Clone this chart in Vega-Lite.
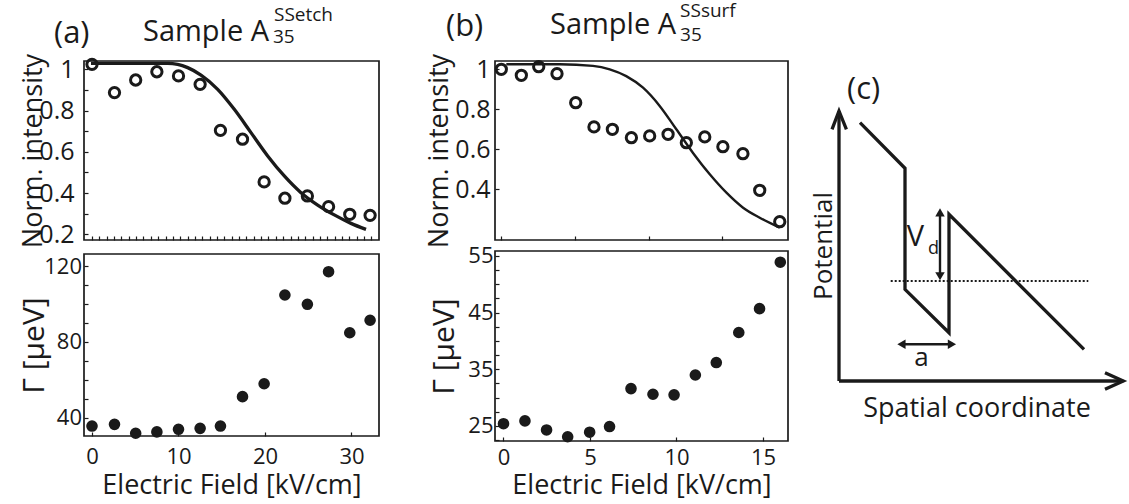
{
  "$schema": "https://vega.github.io/schema/vega-lite/v6.json",
  "padding": 0,
  "autosize": {"type": "pad"},
  "background": "white",
  "config": {
    "font": "Open Sans",
    "view": {"stroke": "#1a1a1a", "strokeWidth": 1.7},
    "axis": {"grid": false, "domain": false, "labelFont": "Open Sans", "titleFont": "Open Sans", "labelColor": "#1a1a1a", "titleColor": "#1a1a1a", "tickColor": "#1a1a1a", "titleFontWeight": "normal", "labelFlush": false, "labelOverlap": false, "tickWidth": 1.2},
    "text": {"font": "Open Sans", "color": "#1a1a1a"}
  },
  "spacing": 3,
  "hconcat": [
    {
      "bounds": "flush",
      "spacing": 14,
      "vconcat": [
        {
          "width": 295, "height": 179,
          "encoding": {
            "x": {"field": "x", "type": "quantitative", "scale": {"domain": [-0.925, 33.18], "nice": false, "zero": false},
              "axis": {"title": null, "labels": false, "tickSize": -4, "minExtent": 0, "maxExtent": 0,
                "values": [0,0.85,1.7,2.55,3.4,4.25,5.1,5.95,6.8,7.65,8.5,9.35,10.2,11.05,11.9,12.75,13.6,14.45,15.3,16.15,17,17.85,18.7,19.55,20.4,21.25,22.1,22.95,23.8,24.65,25.5,26.35,27.2,28.05,28.9,29.75,30.6,31.45,32.3]}},
            "y": {"field": "y", "type": "quantitative", "scale": {"domain": [0.1724, 1.0402], "nice": false, "zero": false},
              "axis": {"title": "Norm. intensity", "values": [0.2,0.3,0.4,0.5,0.6,0.7,0.8,0.9,1], "format": "~f",
                "labelExpr": "abs(datum.value*5 - round(datum.value*5)) < 0.001 ? datum.label : ''",
                "labelFontSize": 25, "labelPadding": 14, "tickSize": -4, "titleFontSize": 27, "titlePadding": 6.6, "minExtent": 30, "maxExtent": 30}}
          },
          "layer": [
            {"data": {"values": [
              {"x": -0.12, "y": 1.029}, {"x": 8.75, "y": 1.029}, {"x": 9.9, "y": 1.024}, {"x": 11.06, "y": 1.008}, {"x": 12.6, "y": 0.972},
              {"x": 14.53, "y": 0.903}, {"x": 16.45, "y": 0.806}, {"x": 18.38, "y": 0.693}, {"x": 20.31, "y": 0.58}, {"x": 22.23, "y": 0.483},
              {"x": 24.16, "y": 0.402}, {"x": 26.09, "y": 0.342}, {"x": 28.01, "y": 0.294}, {"x": 29.94, "y": 0.253}, {"x": 31.68, "y": 0.224}]},
             "mark": {"type": "line", "interpolate": "monotone", "color": "#1a1a1a", "strokeWidth": 3.3}},
            {"data": {"values": [
              {"x": 0, "y": 1.024}, {"x": 2.6, "y": 0.887}, {"x": 5.05, "y": 0.948}, {"x": 7.5, "y": 0.988}, {"x": 10, "y": 0.968},
              {"x": 12.5, "y": 0.927}, {"x": 14.85, "y": 0.704}, {"x": 17.4, "y": 0.661}, {"x": 19.9, "y": 0.454}, {"x": 22.3, "y": 0.375},
              {"x": 24.9, "y": 0.386}, {"x": 27.35, "y": 0.334}, {"x": 29.8, "y": 0.297}, {"x": 32.15, "y": 0.292}]},
             "mark": {"type": "point", "shape": "circle", "filled": false, "size": 106, "strokeWidth": 3, "color": "#1a1a1a", "opacity": 1}},
            {"data": {"values": [{"x": -4.393, "y": 1.129, "t": "(a)"}]},
             "mark": {"type": "text", "fontSize": 31, "align": "left", "baseline": "alphabetic"}, "encoding": {"text": {"field": "t"}}},
            {"data": {"values": [{"x": 5.896, "y": 1.137, "t": "Sample A"}]},
             "mark": {"type": "text", "fontSize": 29, "align": "left", "baseline": "alphabetic"}, "encoding": {"text": {"field": "t"}}},
            {"data": {"values": [{"x": 20.925, "y": 1.1275, "t": "35"}, {"x": 21.04, "y": 1.2342, "t": "SSetch"}]},
             "mark": {"type": "text", "fontSize": 19, "align": "left", "baseline": "alphabetic"}, "encoding": {"text": {"field": "t"}}},
            {"data": {"values": [{"x": -10.52, "y": 1.33115, "t": "."}]},
             "mark": {"type": "text", "fontSize": 10, "align": "left", "baseline": "top", "opacity": 0}, "encoding": {"text": {"field": "t"}}},
            {"data": {"values": [{"x": 33.526, "y": 0.8463, "t": "."}]},
             "mark": {"type": "text", "fontSize": 10, "align": "right", "baseline": "middle", "opacity": 0}, "encoding": {"text": {"field": "t"}}}
          ]
        },
        {
          "width": 295, "height": 182,
          "data": {"values": [
            {"x": 0, "y": 35.6}, {"x": 2.6, "y": 36.5}, {"x": 5.05, "y": 31.8}, {"x": 7.5, "y": 32.5}, {"x": 10, "y": 33.9},
            {"x": 12.5, "y": 34.4}, {"x": 14.85, "y": 35.6}, {"x": 17.4, "y": 51.1}, {"x": 19.9, "y": 57.9}, {"x": 22.3, "y": 104.7},
            {"x": 24.9, "y": 99.8}, {"x": 27.35, "y": 117.0}, {"x": 29.8, "y": 84.8}, {"x": 32.15, "y": 91.4}]},
          "mark": {"type": "point", "shape": "circle", "filled": true, "size": 135, "strokeWidth": 0, "color": "#1a1a1a", "opacity": 1},
          "encoding": {
            "x": {"field": "x", "type": "quantitative", "scale": {"domain": [-0.925, 33.18], "nice": false, "zero": false},
              "axis": {"title": "Electric Field [kV/cm]", "values": [0, 10, 20, 30], "format": "~f", "labelFontSize": 22, "labelPadding": 14, "tickSize": -4,
                "titleFontSize": 27, "titlePadding": 11, "minExtent": 25, "maxExtent": 25}},
            "y": {"field": "y", "type": "quantitative", "scale": {"domain": [30.35, 126.33], "nice": false, "zero": false},
              "axis": {"title": "Γ [μeV]", "values": [40, 50, 60, 70, 80, 90, 100, 110, 120], "format": "~f",
                "labelExpr": "datum.value % 40 == 0 ? datum.label : ''",
                "labelFontSize": 22, "labelPadding": 6.5, "tickSize": -4, "titleFontSize": 30, "titlePadding": 4.5, "minExtent": 30, "maxExtent": 30}}
          }
        }
      ]
    },
    {
      "bounds": "flush",
      "spacing": 11,
      "vconcat": [
        {
          "width": 293, "height": 179,
          "encoding": {
            "x": {"field": "x", "type": "quantitative", "scale": {"domain": [-0.428, 19.46], "nice": false, "zero": false},
              "axis": {"title": null, "labels": false, "tickSize": -4, "values": [0, 5, 10, 15], "minExtent": 0, "maxExtent": 0}},
            "y": {"field": "y", "type": "quantitative", "scale": {"domain": [0.1465, 1.0415], "nice": false, "zero": false},
              "axis": {"title": "Norm. intensity", "values": [0.4, 0.6, 0.8, 1], "format": "~f",
                "labelFontSize": 25, "labelPadding": 9, "tickSize": -4, "titleFontSize": 27, "titlePadding": 11.3, "minExtent": 30, "maxExtent": 30}}
          },
          "layer": [
            {"data": {"values": [
              {"x": 0.34, "y": 1.025}, {"x": 3.96, "y": 1.025}, {"x": 6.22, "y": 1.017}, {"x": 7.36, "y": 1.0}, {"x": 8.48, "y": 0.966},
              {"x": 9.62, "y": 0.908}, {"x": 10.75, "y": 0.817}, {"x": 11.88, "y": 0.7}, {"x": 13.0, "y": 0.583}, {"x": 14.15, "y": 0.475},
              {"x": 15.28, "y": 0.383}, {"x": 16.41, "y": 0.308}, {"x": 17.54, "y": 0.258}, {"x": 18.9, "y": 0.208}]},
             "mark": {"type": "line", "interpolate": "monotone", "color": "#1a1a1a", "strokeWidth": 2.4}},
            {"data": {"values": [
              {"x": 0, "y": 1.0}, {"x": 1.36, "y": 0.97}, {"x": 2.54, "y": 1.013}, {"x": 3.78, "y": 0.978}, {"x": 5.05, "y": 0.833},
              {"x": 6.29, "y": 0.712}, {"x": 7.54, "y": 0.7}, {"x": 8.83, "y": 0.658}, {"x": 10.07, "y": 0.667}, {"x": 11.32, "y": 0.675},
              {"x": 12.56, "y": 0.633}, {"x": 13.81, "y": 0.662}, {"x": 15.04, "y": 0.613}, {"x": 16.4, "y": 0.578}, {"x": 17.54, "y": 0.395},
              {"x": 18.9, "y": 0.238}]},
             "mark": {"type": "point", "shape": "circle", "filled": false, "size": 106, "strokeWidth": 3, "color": "#1a1a1a", "opacity": 1}},
            {"data": {"values": [{"x": -3.754, "y": 1.1685, "t": "(b)"}]},
             "mark": {"type": "text", "fontSize": 31, "align": "left", "baseline": "alphabetic"}, "encoding": {"text": {"field": "t"}}},
            {"data": {"values": [{"x": 3.306, "y": 1.175, "t": "Sample A"}]},
             "mark": {"type": "text", "fontSize": 29, "align": "left", "baseline": "alphabetic"}, "encoding": {"text": {"field": "t"}}},
            {"data": {"values": [{"x": 12.132, "y": 1.1415, "t": "35"}, {"x": 12.132, "y": 1.2615, "t": "SSsurf"}]},
             "mark": {"type": "text", "fontSize": 19, "align": "left", "baseline": "alphabetic"}, "encoding": {"text": {"field": "t"}}},
            {"data": {"values": [{"x": -7.76, "y": 1.3415, "t": "."}]},
             "mark": {"type": "text", "fontSize": 10, "align": "left", "baseline": "top", "opacity": 0}, "encoding": {"text": {"field": "t"}}},
            {"data": {"values": [{"x": 19.532, "y": 0.8415, "t": "."}]},
             "mark": {"type": "text", "fontSize": 10, "align": "right", "baseline": "middle", "opacity": 0}, "encoding": {"text": {"field": "t"}}}
          ]
        },
        {
          "width": 293, "height": 190,
          "data": {"values": [
            {"x": 0, "y": 25.4}, {"x": 1.24, "y": 25.9}, {"x": 2.49, "y": 24.3}, {"x": 3.71, "y": 23.1}, {"x": 4.98, "y": 23.9},
            {"x": 6.13, "y": 24.9}, {"x": 7.37, "y": 31.6}, {"x": 8.64, "y": 30.6}, {"x": 9.86, "y": 30.5}, {"x": 11.09, "y": 34.0},
            {"x": 12.3, "y": 36.2}, {"x": 13.6, "y": 41.5}, {"x": 14.8, "y": 45.7}, {"x": 16.0, "y": 53.9}]},
          "mark": {"type": "point", "shape": "circle", "filled": true, "size": 135, "strokeWidth": 0, "color": "#1a1a1a", "opacity": 1},
          "encoding": {
            "x": {"field": "x", "type": "quantitative", "scale": {"domain": [-0.491, 16.445], "nice": false, "zero": false},
              "axis": {"title": "Electric Field [kV/cm]", "values": [0, 5, 10, 15], "format": "~f", "labelFontSize": 22, "labelPadding": 10, "tickSize": -4,
                "titleFontSize": 27, "titlePadding": 6, "minExtent": 25, "maxExtent": 25}},
            "y": {"field": "y", "type": "quantitative", "scale": {"domain": [22.35, 55.88], "nice": false, "zero": false},
              "axis": {"title": "Γ [μeV]", "values": [22.5, 25, 27.5, 30, 32.5, 35, 37.5, 40, 42.5, 45, 47.5, 50, 52.5, 55], "format": "~f",
                "labelExpr": "(datum.value - 25) % 10 == 0 ? datum.label : ''",
                "labelFontSize": 22, "labelPadding": 6, "tickSize": -4, "titleFontSize": 30, "titlePadding": 5.2, "minExtent": 30, "maxExtent": 30}}
          }
        }
      ]
    },
    {
      "width": 275, "height": 320,
      "view": {"stroke": null},
      "encoding": {
        "x": {"field": "x", "type": "quantitative", "scale": {"domain": [0, 275], "nice": false, "zero": false},
          "axis": {"title": "Spatial coordinate", "domain": false, "ticks": false, "labels": false, "grid": false, "titleFontSize": 27, "titlePadding": 14.5, "minExtent": 0, "maxExtent": 0}},
        "y": {"field": "y", "type": "quantitative", "scale": {"domain": [0, 320], "nice": false, "zero": false}, "axis": null}
      },
      "layer": [
        {"data": {"values": [
          {"seg": "yaxis", "i": 0, "x": 0, "y": 0}, {"seg": "yaxis", "i": 1, "x": 0, "y": 270},
          {"seg": "yhead", "i": 0, "x": -7, "y": 251.7}, {"seg": "yhead", "i": 1, "x": 0, "y": 270}, {"seg": "yhead", "i": 2, "x": 7.4, "y": 251.7},
          {"seg": "xaxis", "i": 0, "x": 0, "y": 0}, {"seg": "xaxis", "i": 1, "x": 284.3, "y": 0},
          {"seg": "xhead", "i": 0, "x": 266, "y": 8.3}, {"seg": "xhead", "i": 1, "x": 284.3, "y": 0}, {"seg": "xhead", "i": 2, "x": 266, "y": -8.3},
          {"seg": "pot", "i": 0, "x": 21, "y": 258.3}, {"seg": "pot", "i": 1, "x": 66, "y": 212.7}, {"seg": "pot", "i": 2, "x": 66, "y": 91.7},
          {"seg": "pot", "i": 3, "x": 110, "y": 48.3}, {"seg": "pot", "i": 4, "x": 110, "y": 166.7}, {"seg": "pot", "i": 5, "x": 245, "y": 31.7}]},
         "mark": {"type": "line", "color": "#1a1a1a", "strokeWidth": 3.3, "strokeJoin": "miter"},
         "encoding": {"detail": {"field": "seg", "type": "nominal"}, "order": {"field": "i", "type": "quantitative"}}},
        {"data": {"values": [{"i": 0, "x": 51.7, "y": 100}, {"i": 1, "x": 249.3, "y": 100}]},
         "mark": {"type": "line", "color": "#1a1a1a", "strokeWidth": 2.2, "strokeDash": [2, 2]},
         "encoding": {"order": {"field": "i", "type": "quantitative"}}},
        {"data": {"values": [
          {"seg": "vd", "i": 0, "x": 101, "y": 104}, {"seg": "vd", "i": 1, "x": 101, "y": 169},
          {"seg": "a", "i": 0, "x": 62, "y": 36.7}, {"seg": "a", "i": 1, "x": 113, "y": 36.7}]},
         "mark": {"type": "line", "color": "#1a1a1a", "strokeWidth": 2.4},
         "encoding": {"detail": {"field": "seg", "type": "nominal"}, "order": {"field": "i", "type": "quantitative"}}},
        {"data": {"values": [
          {"dir": "up", "x": 101, "y": 168.55}, {"dir": "down", "x": 101, "y": 104.75},
          {"dir": "left", "x": 62.45, "y": 36.7}, {"dir": "right", "x": 112.95, "y": 36.7}]},
         "mark": {"type": "point", "filled": true, "size": 90, "strokeWidth": 0, "color": "#1a1a1a", "opacity": 1},
         "encoding": {"shape": {"field": "dir", "type": "nominal", "legend": null,
           "scale": {"domain": ["up", "down", "left", "right"], "range": ["triangle-up", "triangle-down", "triangle-left", "triangle-right"]}}}},
        {"data": {"values": [{"x": 67.7, "y": 135, "t": "V"}]},
         "mark": {"type": "text", "fontSize": 29, "align": "left", "baseline": "alphabetic"}, "encoding": {"text": {"field": "t"}}},
        {"data": {"values": [{"x": 89, "y": 126.7, "t": "d"}]},
         "mark": {"type": "text", "fontSize": 18, "align": "left", "baseline": "alphabetic"}, "encoding": {"text": {"field": "t"}}},
        {"data": {"values": [{"x": 82.5, "y": 15, "t": "a"}]},
         "mark": {"type": "text", "fontSize": 26, "align": "center", "baseline": "alphabetic"}, "encoding": {"text": {"field": "t"}}},
        {"data": {"values": [{"x": 8, "y": 281.7, "t": "(c)"}]},
         "mark": {"type": "text", "fontSize": 31, "align": "left", "baseline": "alphabetic"}, "encoding": {"text": {"field": "t"}}},
        {"data": {"values": [{"x": -7, "y": 135, "t": "Potential"}]},
         "mark": {"type": "text", "fontSize": 26, "align": "center", "baseline": "alphabetic", "angle": 270}, "encoding": {"text": {"field": "t"}}},
        {"data": {"values": [{"x": -44, "y": 380, "t": "."}]},
         "mark": {"type": "text", "fontSize": 10, "align": "left", "baseline": "top", "opacity": 0}, "encoding": {"text": {"field": "t"}}}
      ]
    }
  ]
}
